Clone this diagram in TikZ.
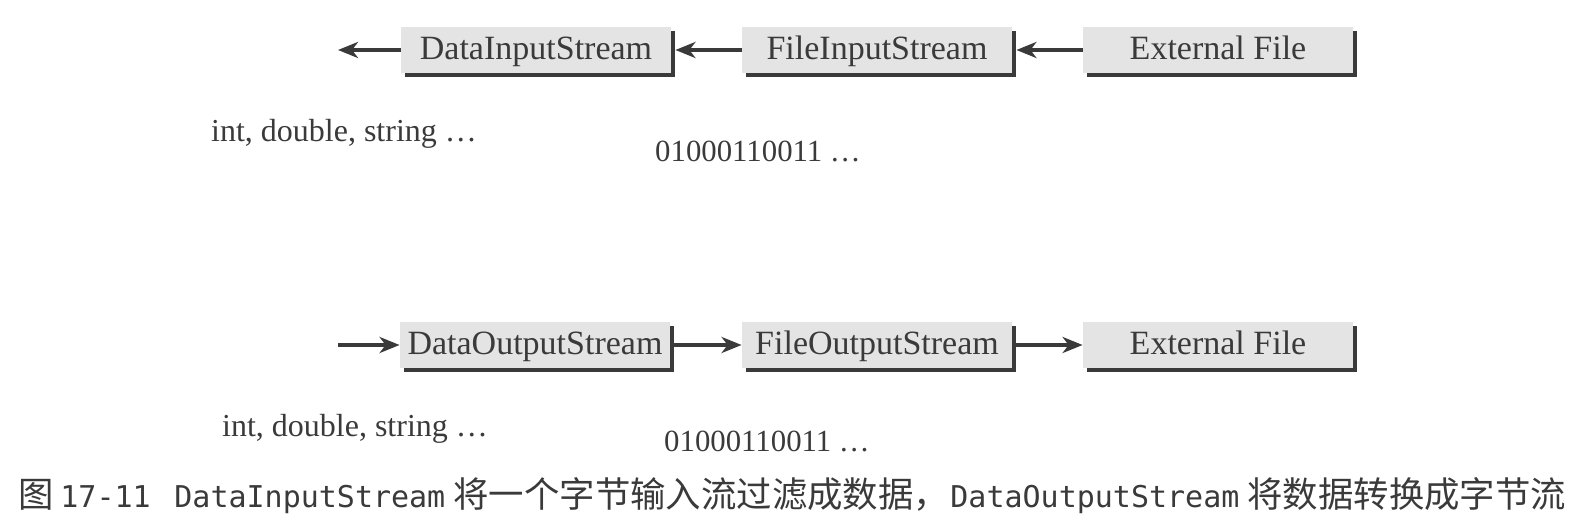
\documentclass[tikz,border=0pt]{standalone}
\usepackage{fontspec}
\setmainfont{Liberation Serif}
\setmonofont{DejaVu Sans Mono}
\newfontfamily\cjk{Noto Sans CJK SC}
\usetikzlibrary{arrows.meta,shadows}
\definecolor{boxgray}{HTML}{E4E4E4}
\definecolor{inkgray}{HTML}{3A3A3A}

\tikzset{
  streambox/.style={fill=boxgray, minimum width=135pt, minimum height=23pt, inner sep=0pt,
    text height=12.5pt, text depth=2.5pt,
    font=\fontsize{17}{20}\selectfont, text=inkgray,
    drop shadow={shadow xshift=2pt, shadow yshift=-2pt, fill=inkgray, opacity=1}},
  flow/.style={line width=2pt, draw=inkgray, -{Stealth[length=10pt,width=8pt,inset=3pt]}},
  datalabel/.style={font=\fontsize{16}{19}\selectfont, text=inkgray},
  bitlabel/.style={font=\fontsize{15.4}{18}\selectfont, text=inkgray},
  captext/.style={anchor=base west, inner sep=0pt, text=inkgray},
  capcjk/.style={captext, font=\cjk\fontsize{17.7}{20}\selectfont},
  capmono/.style={captext, font=\ttfamily\fontsize{15}{18}\selectfont},
}

\begin{document}
\begin{tikzpicture}[x=0.5pt,y=-0.5pt]
\useasboundingbox (0,0) rectangle (1582,528);
% input side
\node[streambox] (dis) at (536,50) {DataInputStream};
\node[streambox] (fis) at (877,50) {FileInputStream};
\node[streambox] (infile) at (1218,50) {External File};
\coordinate (inend) at (338,50);
\draw[flow] (infile.west) -- ([xshift=2pt]fis.east);
\draw[flow] (fis.west) -- ([xshift=2pt]dis.east);
\draw[flow] (dis.west) -- (inend);
\node[datalabel] (intypes) at (344,134) {int, double, string \dots};
\node[bitlabel] (inbits) at (758,151) {01000110011 \dots};
% output side
\node[streambox] (dos) at (535,345) {DataOutputStream};
\node[streambox] (fos) at (877,345) {FileOutputStream};
\node[streambox] (outfile) at (1218,345) {External File};
\coordinate (outstart) at (338,345);
\draw[flow] (outstart) -- (dos.west);
\draw[flow] ([xshift=2pt]dos.east) -- (fos.west);
\draw[flow] ([xshift=2pt]fos.east) -- (outfile.west);
\node[datalabel] (outtypes) at (355,429) {int, double, string \dots};
\node[bitlabel] (outbits) at (767,441) {01000110011 \dots};
% caption
\node[capcjk] (capfig) at (18,507) {图};
\node[capmono] (capnum) at (60,507) {17-11};
\node[capmono] (capdis) at (174,507) {DataInputStream};
\node[capcjk] (capin) at (453,507) {将一个字节输入流过滤成数据，};
\node[capmono] (capdos) at (950,507) {DataOutputStream};
\node[capcjk] (capout) at (1247,507) {将数据转换成字节流};
\end{tikzpicture}
\end{document}
